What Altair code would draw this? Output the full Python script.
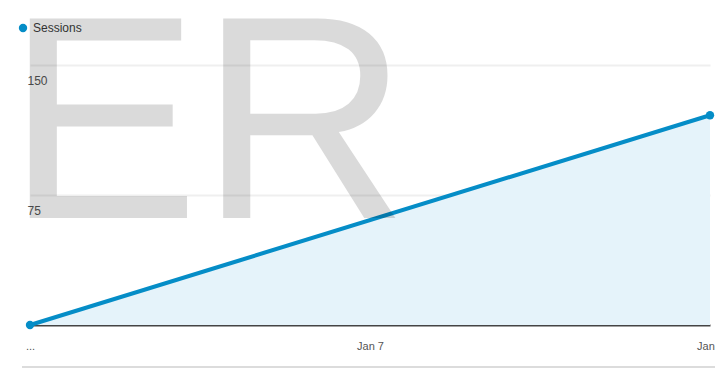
import json
import altair as alt
import pandas as pd

# ---- data ----
days = [6, 8]
sessions = [0, 121]
tick_days = [6, 7, 8]
tick_labels = ["...", "Jan 7", "Jan 8"]
y_ticks = [75, 150]
series_name = "Sessions"
watermark = "ER"

df = pd.DataFrame({"day": days, "sessions": sessions, "series": series_name})

FONT = "Liberation Sans"
BLUE = "#058dc7"

label_map = json.dumps(dict(zip([str(d) for d in tick_days], tick_labels)))
label_expr = f"{label_map}[''+datum.value]"

x = alt.X(
    "day:Q",
    scale=alt.Scale(domain=[tick_days[0], tick_days[-1]], nice=False, zero=False),
    axis=alt.Axis(
        values=tick_days, labelExpr=label_expr, title=None, grid=False,
        ticks=False, domain=True, domainColor="#444", domainWidth=2,
        labelPadding=15, labelFontSize=11, labelColor="#555", labelFont=FONT,
        labelFlush=False,
    ),
)
y = alt.Y(
    "sessions:Q",
    scale=alt.Scale(domain=[0, 150], nice=False),
    axis=alt.Axis(
        values=y_ticks, title=None, grid=True, gridColor="#efefef", gridWidth=2,
        ticks=False, domain=False, labelAlign="left", labelBaseline="top",
        labelPadding=3, labelOffset=10, labelFontSize=12, labelColor="#555",
        labelFont=FONT,
    ),
)

base = alt.Chart(df)
area = base.mark_area(color="#e5f3fa", opacity=1).encode(x=x, y=y)
line = base.mark_line(color=BLUE, strokeWidth=4).encode(x=x, y=y)
pts = base.mark_point(filled=True, size=70, opacity=1).encode(
    x=x, y=y,
    color=alt.Color(
        "series:N", scale=alt.Scale(range=[BLUE]),
        legend=alt.Legend(
            orient="none", legendX=-13, legendY=-43, title=None,
            symbolType="circle", symbolSize=70, labelFontSize=12,
            labelFont=FONT, labelColor="#333", symbolStrokeWidth=0,
        ),
    ),
)
bottom_rule = alt.Chart(pd.DataFrame({"a": [0]})).mark_rule(
    color="#dcdcdc", strokeWidth=2
).encode(x=alt.value(-8), x2=alt.value(690), y=alt.value(302))

wm = alt.Chart(pd.DataFrame({"t": [watermark]})).mark_text(
    align="left", baseline="alphabetic", fontSize=290, font="Liberation Sans",
    color="#000", opacity=0.14,
).encode(text="t:N", x=alt.value(-24), y=alt.value(153))

chart = (
    alt.layer(area, bottom_rule, line, pts, wm)
    .properties(
        width=680, height=260,
        autosize=alt.AutoSizeParams(type="none"),
        padding={"left": 30, "top": 65, "right": 5, "bottom": 45},
        background="white",
    )
    .configure_view(strokeWidth=0, stroke="transparent")
)

chart.save("out.html", embed_options={"renderer": "svg", "actions": False})
